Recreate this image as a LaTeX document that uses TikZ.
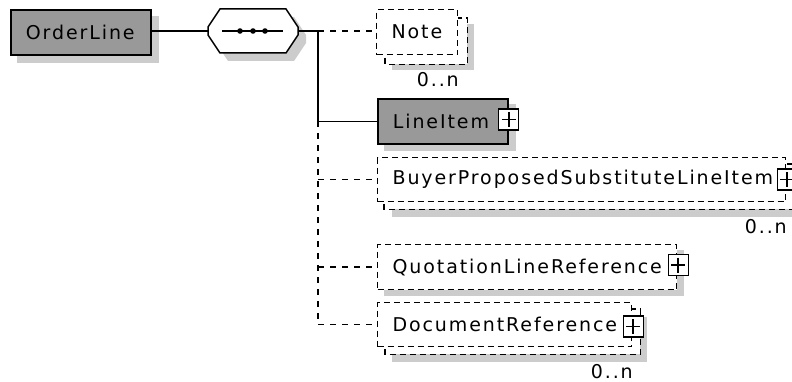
\documentclass[tikz,border=0pt]{standalone}
\usepackage{fontspec}
\setmainfont{DejaVu Sans}[LetterSpace=10]
\usetikzlibrary{calc,backgrounds}
\definecolor{reqgray}{HTML}{999999}
\definecolor{shadowgray}{HTML}{CCCCCC}
\begin{document}
\begin{tikzpicture}[x=1pt,y=-1pt,
  every node/.style={font=\fontsize{19}{22}\selectfont},
  elem/.style={anchor=north west, inner xsep=15pt, inner ysep=0pt, align=left, minimum height=45pt},
  reqbox/.style={elem, draw, line width=1.8pt, fill=reqgray},
  optbox/.style={elem, draw, line width=1.2pt, fill=white, dash pattern=on 6pt off 4pt},
  shadowfill/.style={fill=shadowgray},
  backlayer/.style={draw, line width=1.2pt, fill=white, dash pattern=on 6pt off 4pt},
  conn/.style={line width=1.5pt},
  dconn/.style={line width=1.4pt, dash pattern=on 6pt off 6pt},
  plusbox/.style={draw, fill=white, line width=1.3pt, minimum width=20pt, minimum height=21pt, inner sep=0pt,
    path picture={
      \draw[line width=1.5pt] ([xshift=3pt]path picture bounding box.west) -- ([xshift=-3pt]path picture bounding box.east);
      \draw[line width=1.5pt] ([yshift=-3pt]path picture bounding box.north) -- ([yshift=3pt]path picture bounding box.south);
    }},
  mult/.style={anchor=east, inner sep=0pt}
]
\useasboundingbox (0,0) rectangle (792,382);

% elements
\node[reqbox, text width=110pt] (ol) at (10,9) {OrderLine};
\node[optbox, text width=51pt] (note) at (376,9) {Note};
\node[reqbox, text width=100pt] (li) at (377,98) {LineItem};
\node[optbox, text width=378pt, minimum height=44pt] (buyer) at (377,157) {BuyerProposedSubstituteLineItem};
\node[optbox, text width=269pt] (quot) at (377,244) {QuotationLineReference};
\node[optbox, text width=224pt, minimum height=44pt] (doc) at (377,302) {DocumentReference};

% sequence compositor
\node[minimum width=90pt, minimum height=44pt, inner sep=0pt] (seq) at (253,31) {};
\fill[shadowgray] (228,17) -- (294,17) -- (306,35) -- (306,43) -- (294,61) -- (228,61) -- (216,43) -- (216,35) -- cycle;
\draw[line width=1.5pt, fill=white] (220,9) -- (286,9) -- (298,27) -- (298,35) -- (286,53) -- (220,53) -- (208,35) -- (208,27) -- cycle;
\draw[line width=1.4pt] (222,31) -- (283,31);
\fill (240,31) circle (2.8pt) (253,31) circle (2.8pt) (265,31) circle (2.8pt);

% plus boxes
\node[plusbox] (pli) at ($(li.east)+(0,-2)$) {};
\node[plusbox] (pbuyer) at ($(buyer.east)+(1,0)$) {};
\node[plusbox] (pquot) at ($(quot.east)+(1,-2)$) {};
\node[plusbox] (pdoc) at ($(doc.east)+(1,2)$) {};

% multiplicities
\node[mult] (mnote) at (459,80) {0..n};
\node[mult] (mbuyer) at (787,227) {0..n};
\node[mult] (mdoc) at (633,372) {0..n};

% shadows and stacked layers
\begin{pgfonlayer}{background}
  \fill[shadowgray] ($(ol.north west)+(7,7)$) rectangle ($(ol.south east)+(7,7)$);
  \fill[shadowgray] ($(li.north west)+(7,6)$) rectangle ($(li.south east)+(7,6)$);
  \fill[shadowgray] ($(quot.north west)+(7,6)$) rectangle ($(quot.south east)+(7,6)$);
  \fill[shadowgray] ($(note.north west)+(16,15)$) rectangle ($(note.south east)+(16,15)$);
  \fill[shadowgray] ($(buyer.north west)+(15,15)$) rectangle ($(buyer.south east)+(15,15)$);
  \fill[shadowgray] ($(doc.north west)+(15,15)$) rectangle ($(doc.south east)+(15,15)$);
  \draw[backlayer] ($(note.north west)+(9,9)$) rectangle ($(note.south east)+(9,9)$);
  \draw[backlayer] ($(buyer.north west)+(7,7)$) rectangle ($(buyer.south east)+(7,7)$);
  \draw[backlayer] ($(doc.north west)+(8,7)$) rectangle ($(doc.south east)+(8,7)$);
\end{pgfonlayer}

% junctions
\coordinate (j0) at (318,31);
\coordinate (j1) at (j0 |- li.west);
\coordinate (j2) at (j0 |- buyer.west);
\coordinate (j3) at (j0 |- quot.west);
\coordinate (j4) at (j0 |- doc.west);

% connectors
\draw[conn] (ol.east |- seq.west) -- (seq.west);
\draw[conn] (seq.east) -- (j0);
\draw[conn] (j0) -- (j1) -- (li.west);
\draw[dconn] (j0) -- (note.west |- j0);
\draw[dconn] (j1) -- (j4);
\draw[dconn] (j2) -- (buyer.west);
\draw[dconn] (j3) -- (quot.west);
\draw[dconn] (j4) -- (doc.west);
\end{tikzpicture}
\end{document}
